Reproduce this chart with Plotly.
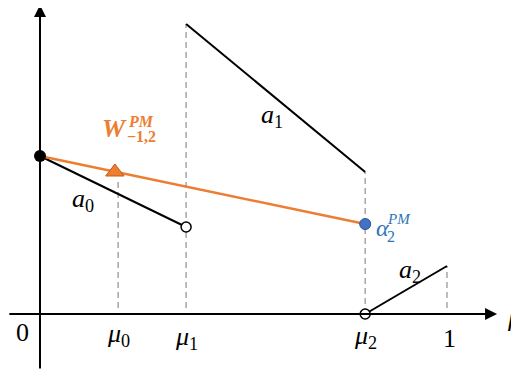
import plotly.graph_objects as go

# ---- data ----
mu_names = ["μ", "μ", "μ"]
mu_subs = ["0", "1", "2"]
mu_vals = [0.192, 0.359, 0.799]          # μ0, μ1, μ2 positions on the x axis
x_end = 1.0

a0_x = [0.0, 0.359]; a0_y = [1.58, 0.87]
a1_x = [0.359, 0.799]; a1_y = [2.90, 1.42]
a2_x = [0.799, 1.0]; a2_y = [0.0, 0.48]
w_x = [0.0, 0.799]; w_y = [1.58, 0.90]
tri_x = [0.184]; tri_y = [1.42]

ORANGE = "#ED7D31"
BLUE = "#4472C4"
LBLUE = "#2E75B6"
GREY = "#A6A6A6"
FONT = "Liberation Serif"

fig = go.Figure()

# dashed verticals
dash_segments = [
    (mu_vals[0], 0.06, 1.34),
    (mu_vals[1], 0.06, a1_y[0]),
    (mu_vals[2], 0.0, a1_y[1]),
    (x_end, 0.06, a2_y[1]),
]
for xv, y0, y1 in dash_segments:
    fig.add_trace(go.Scatter(x=[xv, xv], y=[y0, y1], mode="lines",
                             line=dict(color=GREY, width=1.5, dash="6px,4px"),
                             hoverinfo="skip", showlegend=False))

# segments a0, a1, a2
for xs, ys in [(a0_x, a0_y), (a1_x, a1_y), (a2_x, a2_y)]:
    fig.add_trace(go.Scatter(x=xs, y=ys, mode="lines",
                             line=dict(color="black", width=2),
                             hoverinfo="skip", showlegend=False))

# orange W line
fig.add_trace(go.Scatter(x=w_x, y=w_y, mode="lines",
                         line=dict(color=ORANGE, width=2.5),
                         hoverinfo="skip", showlegend=False))

# markers
fig.add_trace(go.Scatter(x=[a0_x[1], a2_x[0]], y=[a0_y[1], a2_y[0]], mode="markers",
                         marker=dict(size=10, color="white", line=dict(color="black", width=1.5)),
                         showlegend=False))
fig.add_trace(go.Scatter(x=[a0_x[0]], y=[a0_y[0]], mode="markers",
                         marker=dict(size=12, color="black"), showlegend=False))
fig.add_trace(go.Scatter(x=[w_x[1]], y=[w_y[1]], mode="markers",
                         marker=dict(size=11, color=BLUE, line=dict(color="#2F528F", width=1)),
                         showlegend=False))
fig.add_trace(go.Scatter(x=tri_x, y=tri_y, mode="markers",
                         marker=dict(size=16, symbol="triangle-up", color=ORANGE,
                                     line=dict(color="#C55A11", width=1)),
                         showlegend=False))

# axes with arrows
fig.add_annotation(x=0, y=3.09, ax=0, ay=-0.56, xref="x", yref="y", axref="x", ayref="y",
                   text="", showarrow=True, arrowhead=2, arrowsize=1.2, arrowwidth=2,
                   arrowcolor="black", standoff=0)
fig.add_annotation(x=1.123, y=0, ax=-0.079, ay=0, xref="x", yref="y", axref="x", ayref="y",
                   text="", showarrow=True, arrowhead=2, arrowsize=1.2, arrowwidth=2,
                   arrowcolor="black", standoff=0)

def label(x, y, text, size=24, color="black"):
    fig.add_annotation(x=x, y=y, xref="x", yref="y", text=text, showarrow=False,
                       font=dict(family=FONT, size=size, color=color))

# tick labels
label(-0.044, -0.18, "0", size=26)
label(x_end + 0.005, -0.24, "1", size=26)
for name, sub, v, dy in zip(mu_names, mu_subs, mu_vals, [-0.21, -0.24, -0.23]):
    label(v, dy, f"<i>{name}</i><sub>{sub}</sub>", size=26)
label(1.165, -0.03, "<i>μ</i>", size=26)

# segment labels
label(0.106, 1.14, "<i>a</i><sub>0</sub>", size=26)
label(0.57, 1.98, "<i>a</i><sub>1</sub>", size=26)
label(0.909, 0.43, "<i>a</i><sub>2</sub>", size=26)

# W^{PM}_{-1,2}
label(0.182, 1.86, "<b><i>W</i></b>", size=26, color=ORANGE)
label(0.248, 1.93, "<b><i>PM</i></b>", size=16, color=ORANGE)
label(0.250, 1.78, "<b>−1,2</b>", size=16, color=ORANGE)

# α_2^{PM}
label(0.842, 0.86, "<i>α</i>", size=24, color=LBLUE)
label(0.862, 0.78, "2", size=16, color=LBLUE)
label(0.882, 0.95, "<i>PM</i>", size=15, color=LBLUE)

fig.update_layout(
    width=519, height=371,
    margin=dict(l=0, r=0, t=0, b=0),
    paper_bgcolor="white", plot_bgcolor="white",
    xaxis=dict(range=[-0.0786, 1.1966], visible=False, fixedrange=True),
    yaxis=dict(range=[-0.65, 3.06], visible=False, fixedrange=True),
    showlegend=False,
)

fig.write_html("out.html")
